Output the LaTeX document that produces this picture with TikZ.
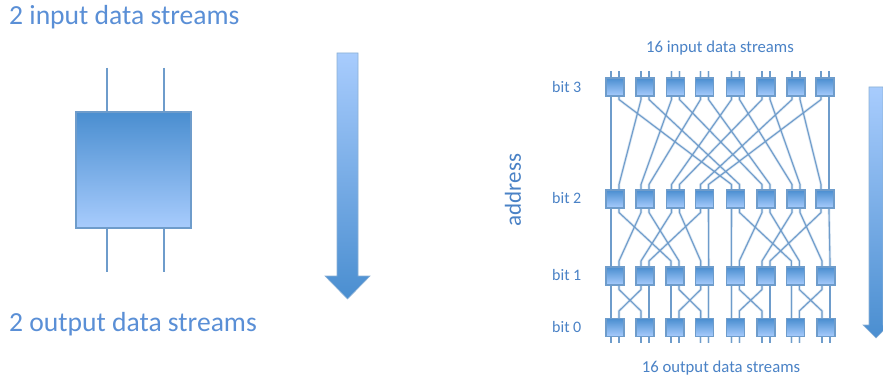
\documentclass[tikz,border=0pt]{standalone}
\usepackage{fontspec}
\setmainfont{Carlito}
\usetikzlibrary{calc}
\definecolor{txt}{HTML}{5A8FD6}
\definecolor{txtb}{HTML}{4A82C6}
\definecolor{edge}{HTML}{6E9CCB}
\definecolor{dark}{HTML}{4A8ED0}
\definecolor{light}{HTML}{A8CCFD}
\tikzset{
  wire/.style={draw=edge,line width=1.1pt,line join=round,preaction={draw=edge,draw opacity=0.25,line width=2.6pt}},
  blk/.style={draw=edge,line width=1.1pt,top color=dark,bottom color=light,inner sep=0,minimum size=18pt,rectangle},
  bigblk/.style={blk,minimum width=115pt,minimum height=116pt},
  downarrow/.style={draw=edge!80,line width=0.6pt,top color=light,bottom color=dark},
  title/.style={text=txt,font=\fontsize{27.6}{32}\selectfont,anchor=west,inner sep=0},
  small/.style={text=txtb,font=\fontsize{16.7}{20}\selectfont,inner sep=0},
  bitlabel/.style={text=txtb,font=\fontsize{16}{20}\selectfont,inner sep=0,anchor=west},
}
\begin{document}
\begin{tikzpicture}[x=1pt,y=-1pt]
\clip (0,0) rectangle (883,382);
\fill[white] (0,0) rectangle (883,382);
% left side
\node[title] (tin) at (9,17) {2 input data streams};
\node[title] (tout) at (9,324) {2 output data streams};
\node[bigblk] (big) at (133.5,170) {};
\coordinate (a1) at (107,68); \coordinate (a2) at (164,68);
\coordinate (c1) at (107,272); \coordinate (c2) at (164,272);
\draw[wire] (a1) -- (a1 |- big.north);
\draw[wire] (a2) -- (a2 |- big.north);
\draw[wire] (c1 |- big.south) -- (c1);
\draw[wire] (c2 |- big.south) -- (c2);
\path[downarrow] (337,53) -- (358,53) -- (358,276) -- (370,276) -- (347.5,299) -- (325,276) -- (337,276) -- cycle;
% right side labels
\node[small] (lin) at (720,48) {16 input data streams};
\node[small] (lout) at (721,368) {16 output data streams};
\node[bitlabel] (l3) at (552,87) {bit 3};
\node[bitlabel] (l2) at (552,198) {bit 2};
\node[bitlabel] (l1) at (552,275) {bit 1};
\node[bitlabel] (l0) at (552,327) {bit 0};
\node[text=txtb,font=\fontsize{23}{27}\selectfont,rotate=90,inner sep=0] (addr) at (513,190) {address};
\path[downarrow] (869,87) -- (883,87) -- (883,325) -- (889,325) -- (876,338) -- (863,325) -- (869,325) -- cycle;
% blocks with pin coordinates, numbered by stream
\def\colsA{615,645,675.5,704.5,735.5,766,796,825}
\def\colsB{615,645,675,704.7,735.3,766,795.3,826}
\foreach \r/\yy/\cols in {3/87/\colsA,2/199/\colsA,1/276/\colsB,0/327.5/\colsB}{
  \edef\thecols{\cols}
  \foreach \c [count=\i from 0] in \thecols {
    \pgfmathtruncatemacro{\pa}{2*\i}
    \pgfmathtruncatemacro{\pb}{2*\i+1}
    \node[blk] (b\r-\i) at (\c,\yy) {};
    \coordinate (r\r i\pa) at ([xshift=-4pt]b\r-\i.north);
    \coordinate (r\r i\pb) at ([xshift=4pt]b\r-\i.north);
    \coordinate (r\r o\pa) at ([xshift=-4pt]b\r-\i.south);
    \coordinate (r\r o\pb) at ([xshift=4pt]b\r-\i.south);
  }
}
% free pins
\foreach \s in {0,...,15}{
  \coordinate (ft\s) at ($(r3i\s)+(0,-6)$);
  \coordinate (fb\s) at ($(r0o\s)+(0,6)$);
  \draw[wire] (ft\s) -- (r3i\s);
  \draw[wire] (r0o\s) -- (fb\s);
}
% stage bit 3 -> bit 2
\foreach \s/\d in {0/0,1/8,2/1,3/9,4/2,5/10,6/3,7/11,8/4,9/12,10/5,11/13,12/6,13/14,14/7,15/15}
  \draw[wire] (r3o\s) -- ++(0,3) -- ($(r2i\d)+(0,-5)$) -- (r2i\d);
% stage bit 2 -> bit 1
\foreach \o in {0,8}
  \foreach \s/\d in {0/0,1/4,2/1,3/5,4/2,5/6,6/3,7/7}{
    \pgfmathtruncatemacro{\ss}{\s+\o}
    \pgfmathtruncatemacro{\dd}{\d+\o}
    \draw[wire] (r2o\ss) -- ++(0,4) -- ($(r1i\dd)+(0,-5.5)$) -- (r1i\dd);
  }
% stage bit 1 -> bit 0
\foreach \o in {0,4,8,12}
  \foreach \s/\d in {0/0,1/2,2/1,3/3}{
    \pgfmathtruncatemacro{\ss}{\s+\o}
    \pgfmathtruncatemacro{\dd}{\d+\o}
    \draw[wire] (r1o\ss) -- ++(0,4) -- ($(r0i\dd)+(0,-7)$) -- (r0i\dd);
  }
\end{tikzpicture}
\end{document}
